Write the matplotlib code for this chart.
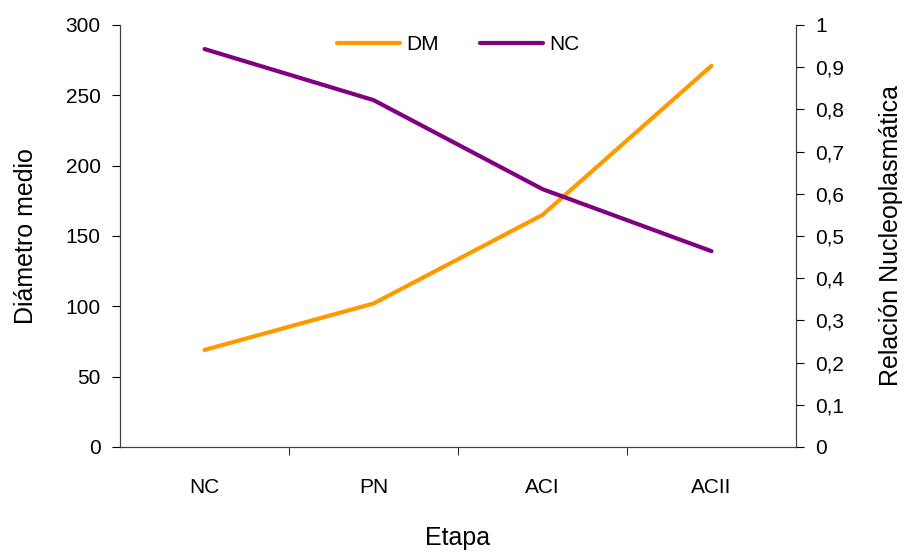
import matplotlib.pyplot as plt
from matplotlib.ticker import FuncFormatter, FixedLocator

plt.rcParams['font.family'] = ['Liberation Sans Narrow', 'Liberation Sans', 'DejaVu Sans']

etapas = ['NC', 'PN', 'ACI', 'ACII']
dm = [69, 102, 165, 271]
nc = [0.943, 0.822, 0.611, 0.464]

fig = plt.figure(figsize=(9.06, 5.53), dpi=100)
ax = fig.add_axes([0.1325, 0.1917, 0.7461, 0.7631])
ax2 = ax.twinx()

x = range(len(etapas))
l1, = ax.plot(x, dm, color='#FF9900', lw=3, solid_capstyle='round', label='DM')
l2, = ax2.plot(x, nc, color='#800080', lw=3, solid_capstyle='round', label='NC')

ax.set_xlim(-0.5, 3.5)
ax.set_ylim(0, 300)
ax2.set_ylim(0, 1)
ax.set_yticks(range(0, 301, 50))
ax2.set_yticks([i / 10 for i in range(11)])
ax2.yaxis.set_major_formatter(FuncFormatter(lambda v, p: ('%g' % round(v, 1)).replace('.', ',')))

ax.set_xticks(list(x))
ax.set_xticklabels(etapas)
ax.xaxis.set_minor_locator(FixedLocator([0.5, 1.5, 2.5]))
ax.tick_params(axis='x', which='major', length=0, pad=22, labelsize=15)
ax.tick_params(axis='x', which='minor', length=6, direction='out')
ax.tick_params(axis='y', length=6, direction='out', labelsize=15, pad=8)
ax2.tick_params(axis='y', length=6, direction='out', labelsize=15, pad=8)

for a in (ax, ax2):
    a.spines['top'].set_visible(False)
    for s in ('left', 'right', 'bottom'):
        a.spines[s].set_color('#404040')

ax.set_xlabel('Etapa', fontsize=18, labelpad=21)
ax.set_ylabel('Diámetro medio', fontsize=18, labelpad=20)
ax2.set_ylabel('Relación Nucleoplasmática', fontsize=18, labelpad=25)

ax.legend([l1, l2], ['DM', 'NC'], loc='upper center', bbox_to_anchor=(0.5, 1.02),
          ncol=2, frameon=False, fontsize=15, handlelength=3, columnspacing=2,
          handletextpad=0.3)

fig.savefig('out.png', dpi=100)
